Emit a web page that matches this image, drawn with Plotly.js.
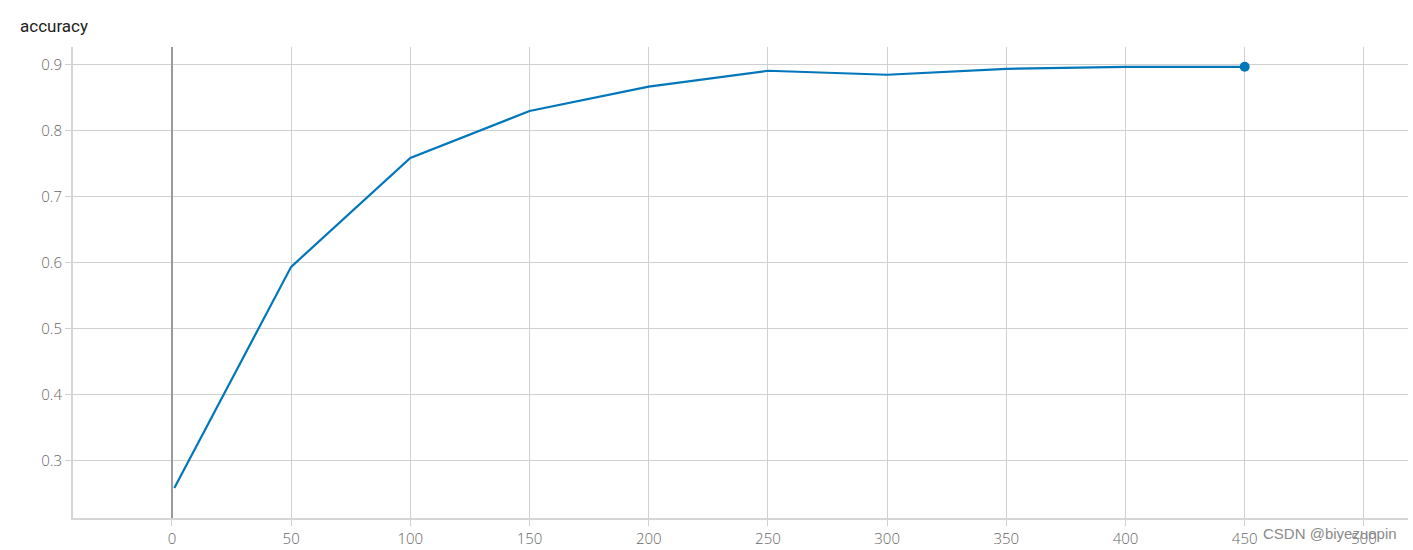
<!DOCTYPE html>
<html>
<head>
<meta charset="utf-8">
<script src="https://cdn.plot.ly/plotly-3.0.1.min.js"></script>
<style>
html,body{margin:0;padding:0;background:#fff;}
#chart{width:1413px;height:550px;}
</style>
</head>
<body>
<div id="chart"></div>
<script>
const steps = [1, 50, 100, 150, 200, 250, 300, 350, 400, 450];
const accuracy = [0.259, 0.594, 0.759, 0.830, 0.867, 0.891, 0.885, 0.894, 0.897, 0.897];
const xTicks = [0, 50, 100, 150, 200, 250, 300, 350, 400, 450, 500];
const yTicks = [0.3, 0.4, 0.5, 0.6, 0.7, 0.8, 0.9];
const titleText = "accuracy";
const watermark = "CSDN @biyezuopin";

const lineColor = "#0077bb";
const tickFont = {size: 15, color: "#666666", family: "'Open Sans', Roboto, sans-serif", weight: 300};
const traces = [
  {x: steps, y: accuracy, type: "scatter", mode: "lines",
   line: {color: lineColor, width: 2.2}, hoverinfo: "x+y"},
  {x: [steps[steps.length-1]], y: [accuracy[accuracy.length-1]], type: "scatter", mode: "markers",
   marker: {color: lineColor, size: 10}, hoverinfo: "x+y"}
];

const layout = {
  width: 1413, height: 550,
  margin: {l: 73, r: 5, t: 47, b: 32},
  paper_bgcolor: "#fff", plot_bgcolor: "#fff",
  showlegend: false,
  font: {family: "Roboto, 'Open Sans', sans-serif", color: "#666666", size: 14},
  title: {text: titleText, x: 20/1413, xanchor: "left", y: 1 - 26/550, yanchor: "middle",
          font: {family: "Roboto, sans-serif", size: 17, color: "#212121"}},
  xaxis: {
    range: [-41.5, 518.5], tickvals: xTicks, ticktext: xTicks.map(String),
    showgrid: true, gridcolor: "#d0d0d0", gridwidth: 1,
    zeroline: true, zerolinecolor: "#9a9a9a", zerolinewidth: 2,
    showline: true, linecolor: "#d6d6d6", linewidth: 2,
    ticks: "outside", ticklen: 6, tickcolor: "#d0d0d0",
    tickfont: tickFont
  },
  yaxis: {
    range: [0.2136, 0.927], tickvals: yTicks, ticktext: yTicks.map(v => v.toFixed(1)),
    showgrid: true, gridcolor: "#d0d0d0", gridwidth: 1,
    zeroline: false,
    showline: true, linecolor: "#d6d6d6", linewidth: 2,
    ticks: "outside", ticklen: 6, tickcolor: "#d0d0d0",
    tickfont: tickFont
  },
  annotations: [{
    text: watermark, xref: "paper", yref: "paper",
    x: (1399-73)/1335, y: -(533-518)/471, xanchor: "right", yanchor: "middle",
    showarrow: false, font: {size: 15, color: "#8a8a8a", family: "'Liberation Sans', Arial, sans-serif"}
  }]
};

Plotly.newPlot("chart", traces, layout, {displayModeBar: false, staticPlot: true});
</script>
</body>
</html>
